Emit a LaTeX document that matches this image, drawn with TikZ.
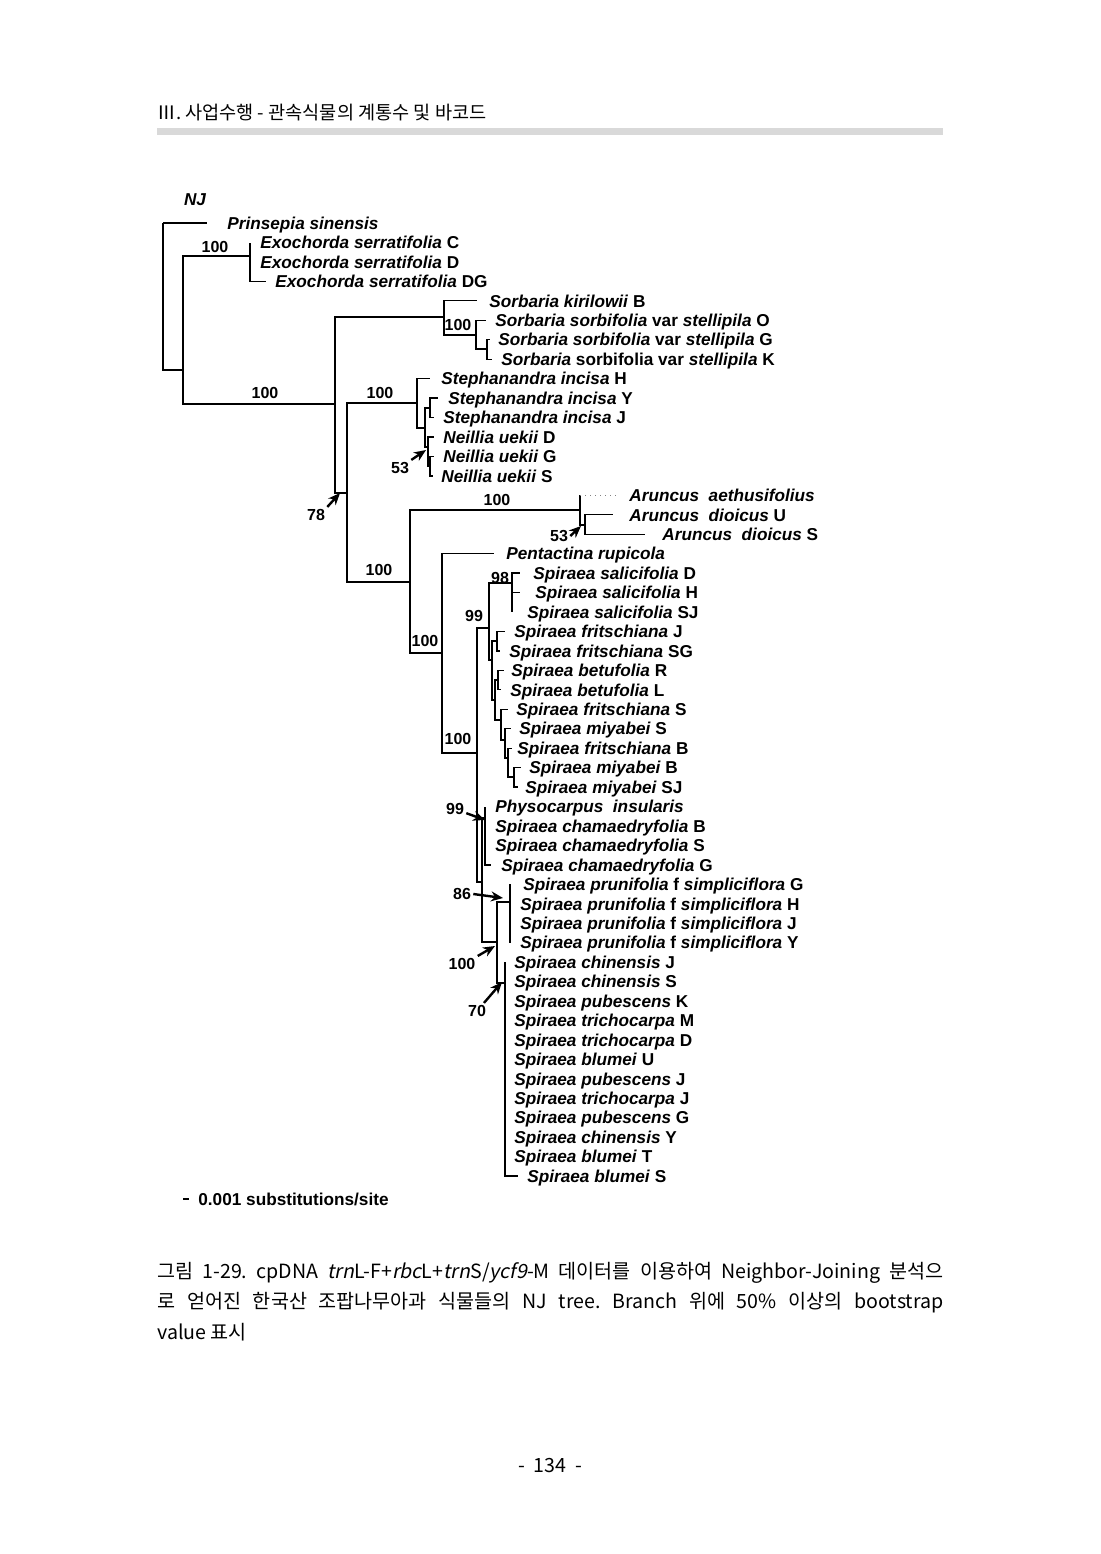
\documentclass[tikz,border=0pt]{standalone}
\usepackage{fontspec}
\setmainfont{Liberation Sans}
\newfontfamily\krfont[ItalicFont={Noto Sans CJK KR},ItalicFeatures={FakeSlant=0.2}]{Noto Sans CJK KR}
\usetikzlibrary{arrows.meta}

\begin{document}
\frenchspacing
\begin{tikzpicture}[x=0.5pt, y=-0.5pt,
	tree/.style={line width=0.65pt},
	taxon/.style={anchor=west, inner sep=0pt, text height=6.2pt, text depth=0pt, font=\fontsize{8.6}{10}\selectfont\bfseries},
	bs/.style={inner sep=1pt, font=\fontsize{8}{9}\selectfont\bfseries},
	bsarrow/.style={line width=1.2pt, -{Stealth[length=6pt, width=5pt]}}]
	\useasboundingbox (0,0) rectangle (1100,1554);

	% page header
	\node[anchor=west, inner sep=0pt, font=\krfont\fontsize{9.3}{11}\selectfont] (head) at (157,113) {Ⅲ. 사업수행 - 관속식물의 계통수 및 바코드};
	\fill[black!15] (157,128) rectangle (943,135);

	\node[font=\fontsize{8.6}{10}\selectfont\bfseries\itshape] (nj) at (195,200) {NJ};

	% taxa
	\node[taxon] (t1) at (227,223.0) {\textit{Prinsepia sinensis}};
	\node[taxon] (t2) at (260,242.5) {\textit{Exochorda serratifolia} C};
	\node[taxon] (t3) at (260,261.9) {\textit{Exochorda serratifolia} D};
	\node[taxon] (t4) at (275,281.4) {\textit{Exochorda serratifolia} DG};
	\node[taxon] (t5) at (489,300.8) {\textit{Sorbaria kirilowii} B};
	\node[taxon] (t6) at (495,320.3) {\textit{Sorbaria sorbifolia} var \textit{stellipila} O};
	\node[taxon] (t7) at (498,339.7) {\textit{Sorbaria sorbifolia} var \textit{stellipila} G};
	\node[taxon] (t8) at (501,359.2) {\textit{Sorbaria} sorbifolia var \textit{stellipila} K};
	\node[taxon] (t9) at (441,378.6) {\textit{Stephanandra incisa} H};
	\node[taxon] (t10) at (448,398.1) {\textit{Stephanandra incisa} Y};
	\node[taxon] (t11) at (443,417.5) {\textit{Stephanandra incisa} J};
	\node[taxon] (t12) at (443,437.0) {\textit{Neillia uekii} D};
	\node[taxon] (t13) at (443,456.4) {\textit{Neillia uekii} G};
	\node[taxon] (t14) at (441,475.9) {\textit{Neillia uekii} S};
	\node[taxon] (t15) at (629,495.3) {\textit{Aruncus\ \ aethusifolius}};
	\node[taxon] (t16) at (629,514.8) {\textit{Aruncus\ \ dioicus} U};
	\node[taxon] (t17) at (662,534.2) {\textit{Aruncus\ \ dioicus} S};
	\node[taxon] (t18) at (506,553.7) {\textit{Pentactina rupicola}};
	\node[taxon] (t19) at (533,573.1) {\textit{Spiraea salicifolia} D};
	\node[taxon] (t20) at (535,592.6) {\textit{Spiraea salicifolia} H};
	\node[taxon] (t21) at (527,612.0) {\textit{Spiraea salicifolia} SJ};
	\node[taxon] (t22) at (514,631.5) {\textit{Spiraea fritschiana} J};
	\node[taxon] (t23) at (509,650.9) {\textit{Spiraea fritschiana} SG};
	\node[taxon] (t24) at (511,670.4) {\textit{Spiraea betufolia} R};
	\node[taxon] (t25) at (510,689.8) {\textit{Spiraea betufolia} L};
	\node[taxon] (t26) at (516,709.3) {\textit{Spiraea fritschiana} S};
	\node[taxon] (t27) at (519,728.7) {\textit{Spiraea miyabei} S};
	\node[taxon] (t28) at (517,748.2) {\textit{Spiraea fritschiana} B};
	\node[taxon] (t29) at (529,767.6) {\textit{Spiraea miyabei} B};
	\node[taxon] (t30) at (525,787.1) {\textit{Spiraea miyabei} SJ};
	\node[taxon] (t31) at (495,806.5) {\textit{Physocarpus\ \ insularis}};
	\node[taxon] (t32) at (495,826.0) {\textit{Spiraea chamaedryfolia} B};
	\node[taxon] (t33) at (495,845.4) {\textit{Spiraea chamaedryfolia} S};
	\node[taxon] (t34) at (501,864.9) {\textit{Spiraea chamaedryfolia} G};
	\node[taxon] (t35) at (523,884.3) {\textit{Spiraea prunifolia} f \textit{simpliciflora} G};
	\node[taxon] (t36) at (520,903.8) {\textit{Spiraea prunifolia} f \textit{simpliciflora} H};
	\node[taxon] (t37) at (520,923.2) {\textit{Spiraea prunifolia} f \textit{simpliciflora} J};
	\node[taxon] (t38) at (520,942.7) {\textit{Spiraea prunifolia} f \textit{simpliciflora} Y};
	\node[taxon] (t39) at (514,962.1) {\textit{Spiraea chinensis} J};
	\node[taxon] (t40) at (514,981.6) {\textit{Spiraea chinensis} S};
	\node[taxon] (t41) at (514,1001.0) {\textit{Spiraea pubescens} K};
	\node[taxon] (t42) at (514,1020.5) {\textit{Spiraea trichocarpa} M};
	\node[taxon] (t43) at (514,1039.9) {\textit{Spiraea trichocarpa} D};
	\node[taxon] (t44) at (514,1059.4) {\textit{Spiraea blumei} U};
	\node[taxon] (t45) at (514,1078.8) {\textit{Spiraea pubescens} J};
	\node[taxon] (t46) at (514,1098.3) {\textit{Spiraea trichocarpa} J};
	\node[taxon] (t47) at (514,1117.7) {\textit{Spiraea pubescens} G};
	\node[taxon] (t48) at (514,1137.2) {\textit{Spiraea chinensis} Y};
	\node[taxon] (t49) at (514,1156.6) {\textit{Spiraea blumei} T};
	\node[taxon] (t50) at (527,1176.1) {\textit{Spiraea blumei} S};

	% branch tips
	\coordinate (e1) at (207,223.0);
	\coordinate (e2) at (250,242.5);
	\coordinate (e3) at (250,261.9);
	\coordinate (e4) at (266,281.4);
	\coordinate (e5) at (477,300.8);
	\coordinate (e6) at (486,320.3);
	\coordinate (e7) at (490,339.7);
	\coordinate (e8) at (492,359.2);
	\coordinate (e9) at (430,378.6);
	\coordinate (e10) at (438,398.1);
	\coordinate (e11) at (434,417.5);
	\coordinate (e12) at (434,437.0);
	\coordinate (e13) at (434,456.4);
	\coordinate (e14) at (433,475.9);
	\coordinate (e15) at (618,495.3);
	\coordinate (e16) at (613,514.8);
	\coordinate (e17) at (645,534.2);
	\coordinate (e18) at (494,553.7);
	\coordinate (e19) at (520,573.1);
	\coordinate (e20) at (520,592.6);
	\coordinate (e21) at (512,612.0);
	\coordinate (e22) at (505,631.5);
	\coordinate (e23) at (500,650.9);
	\coordinate (e24) at (504,670.4);
	\coordinate (e25) at (501,689.8);
	\coordinate (e26) at (508,709.3);
	\coordinate (e27) at (511,728.7);
	\coordinate (e28) at (512,748.2);
	\coordinate (e29) at (521,767.6);
	\coordinate (e30) at (518,787.1);
	\coordinate (e31) at (485,806.5);
	\coordinate (e32) at (485,826.0);
	\coordinate (e33) at (485,845.4);
	\coordinate (e34) at (491,864.9);
	\coordinate (e35) at (510,884.3);
	\coordinate (e36) at (510,903.8);
	\coordinate (e37) at (510,923.2);
	\coordinate (e38) at (510,942.7);
	\coordinate (e39) at (505,962.1);
	\coordinate (e50) at (518,1176.1);

	% inner nodes
	\coordinate (nR) at (163,223);
	\coordinate (nA) at (183,370);
	\coordinate (nExo) at (250,256);
	\coordinate (nB) at (335,404);
	\coordinate (nSo) at (444,317);
	\coordinate (nSo2) at (476,335);
	\coordinate (nSo3) at (487,349);
	\coordinate (nC) at (347,493);
	\coordinate (nSt) at (417,403);
	\coordinate (nSt2) at (425,428);
	\coordinate (nSt3) at (430,408);
	\coordinate (nNe) at (428,447);
	\coordinate (nNe2) at (430,466);
	\coordinate (nBig) at (410,582);
	\coordinate (nAr) at (580,510);
	\coordinate (nArT) at (580,495.3);
	\coordinate (nAr2) at (585,525);
	\coordinate (nD) at (442,653);
	\coordinate (nE) at (477,753);
	\coordinate (nS99) at (489,628);
	\coordinate (nSal) at (512,583);
	\coordinate (nL1) at (492,660);
	\coordinate (nFr) at (497,641);
	\coordinate (nL2) at (495,700);
	\coordinate (nBe) at (498,680);
	\coordinate (nL3) at (501,720);
	\coordinate (nL4) at (505,740);
	\coordinate (nL5) at (508,758);
	\coordinate (nMi) at (514,777);
	\coordinate (nF) at (482,882);
	\coordinate (nPh) at (485,818);
	\coordinate (nG) at (497,942);
	\coordinate (nPr) at (510,902);
	\coordinate (nCh) at (505,983);

	% branches
	\draw[tree] (nR) |- (e1) (nR) |- (nA);
	\draw[tree] (nA) |- (nExo) (nA) |- (nB);
	\draw[tree] (nExo) |- (e2) (nExo) |- (e3) (nExo) |- (e4);
	\draw[tree] (nB) |- (nSo) (nB) |- (nC);
	\draw[tree] (nSo) |- (e5) (nSo) |- (nSo2);
	\draw[tree] (nSo2) |- (e6) (nSo2) |- (nSo3);
	\draw[tree] (nSo3) |- (e7) (nSo3) |- (e8);
	\draw[tree] (nC) |- (nSt) (nC) |- (nBig);
	\draw[tree] (nSt) |- (e9) (nSt) |- (nSt2);
	\draw[tree] (nSt2) |- (nSt3) (nSt2) |- (nNe);
	\draw[tree] (nSt3) |- (e10) (nSt3) |- (e11);
	\draw[tree] (nNe) |- (e12) (nNe) |- (nNe2);
	\draw[tree] (nNe2) |- (e13) (nNe2) |- (e14);
	\draw[tree] (nBig) |- (nAr) (nBig) |- (nD);
	\draw[tree] (nAr) -- (nArT) (nAr) |- (nAr2);
	\draw[gray, line width=0.5pt, dotted] (nArT) -- (e15);
	\draw[tree] (nAr2) |- (e16) (nAr2) |- (e17);
	\draw[tree] (nD) |- (e18) (nD) |- (nE);
	\draw[tree] (nE) |- (nS99) (nE) |- (nF);
	\draw[tree] (nS99) |- (nSal) (nS99) |- (nL1);
	\draw[tree] (nSal) |- (e19) (nSal) |- (e20) (nSal) |- (e21);
	\draw[tree] (nL1) |- (nFr) (nL1) |- (nL2);
	\draw[tree] (nFr) |- (e22) (nFr) |- (e23);
	\draw[tree] (nL2) |- (nBe) (nL2) |- (nL3);
	\draw[tree] (nBe) |- (e24) (nBe) |- (e25);
	\draw[tree] (nL3) |- (e26) (nL3) |- (nL4);
	\draw[tree] (nL4) |- (e27) (nL4) |- (nL5);
	\draw[tree] (nL5) |- (e28) (nL5) |- (nMi);
	\draw[tree] (nMi) |- (e29) (nMi) |- (e30);
	\draw[tree] (nF) |- (nPh) (nF) |- (nG);
	\draw[tree] (nPh) |- (e31) (nPh) |- (e32) (nPh) |- (e33) (nPh) |- (e34);
	\draw[tree] (nG) |- (nPr) (nG) |- (nCh);
	\draw[tree] (nPr) |- (e35) (nPr) |- (e36) (nPr) |- (e37) (nPr) |- (e38);
	\draw[tree] (nCh) |- (e39) (nCh) |- (e50);

	% bootstrap values
	\node[bs] (b1) at (215,247) {100};
	\node[bs] (b2) at (265,393) {100};
	\node[bs] (b3) at (458,325) {100};
	\node[bs] (b4) at (380,393) {100};
	\node[bs] (b5) at (316,515) {78};
	\node[bs] (b6) at (400,468) {53};
	\node[bs] (b7) at (497,500) {100};
	\node[bs] (b8) at (559,536) {53};
	\node[bs] (b9) at (379,570) {100};
	\node[bs] (b10) at (425,641) {100};
	\node[bs] (b11) at (500,578) {98};
	\node[bs] (b12) at (474,616) {99};
	\node[bs] (b13) at (458,739) {100};
	\node[bs] (b14) at (455,809) {99};
	\node[bs] (b15) at (462,894) {86};
	\node[bs] (b16) at (462,964) {100};
	\node[bs] (b17) at (477,1011) {70};

	\coordinate (a5) at (340,493);
	\coordinate (a6) at (426,450);
	\coordinate (a8) at (581,526);
	\coordinate (a14) at (485,820);
	\coordinate (a15) at (503,898);
	\coordinate (a16) at (495,946);
	\coordinate (a17) at (502,982);
	\draw[bsarrow] (b5.north east) -- (a5);
	\draw[bsarrow] (b6.north east) -- (a6);
	\draw[bsarrow] (b8.east) -- (a8);
	\draw[bsarrow] ([shift={(13,-5)}]b14) -- (a14);
	\draw[bsarrow] (b15.east) -- (a15);
	\draw[bsarrow] (b16.north east) -- (a16);
	\draw[bsarrow] ([shift={(11,-18)}]b17) -- (a17);

	% scale bar
	\coordinate (sb1) at (183,1199);
	\coordinate (sb2) at (189,1199);
	\draw[line width=0.7pt] (sb1) -- (sb2);
	\node[taxon] (scale) at (198,1199) {0.001 substitutions/site};

	% caption
	\node[anchor=west, inner sep=0pt, font=\krfont\fontsize{9.8}{11}\selectfont] (cap1) at (157,1273) {\makebox[393pt][s]{그림 1-29. cpDNA \textit{trn}L-F+\textit{rbc}L+\textit{trn}S/\textit{ycf9}-M 데이터를 이용하여 Neighbor-Joining 분석으}};
	\node[anchor=west, inner sep=0pt, font=\krfont\fontsize{9.8}{11}\selectfont] (cap2) at (157,1303) {\makebox[393pt][s]{로 얻어진 한국산 조팝나무아과 식물들의 NJ tree. Branch 위에 50\% 이상의 bootstrap}};
	\node[anchor=west, inner sep=0pt, font=\krfont\fontsize{9.8}{11}\selectfont] (cap3) at (157,1332) {value 표시};

	\node[font=\krfont\fontsize{9.8}{11}\selectfont] (pg) at (550,1465) {-\ \ 134\ \ -};
\end{tikzpicture}
\end{document}
